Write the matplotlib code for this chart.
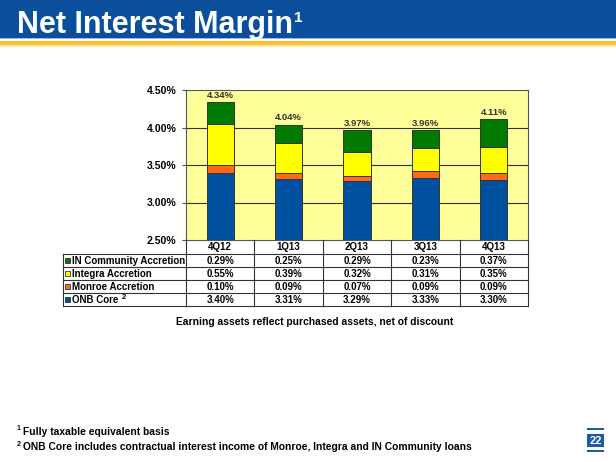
import matplotlib
matplotlib.use("Agg")
import matplotlib.pyplot as plt
from matplotlib.patches import Rectangle
from matplotlib.lines import Line2D
import matplotlib.transforms as mtransforms

plt.rcParams['font.family'] = ['Liberation Sans', 'DejaVu Sans']

# ---------------- data ----------------
categories = ["4Q12", "1Q13", "2Q13", "3Q13", "4Q13"]
onb_core = [3.40, 3.31, 3.29, 3.33, 3.30]
monroe = [0.10, 0.09, 0.07, 0.09, 0.09]
integra = [0.55, 0.39, 0.32, 0.31, 0.35]
in_community = [0.29, 0.25, 0.29, 0.23, 0.37]
totals = [4.34, 4.04, 3.97, 3.96, 4.11]
y_ticks = [2.50, 3.00, 3.50, 4.00, 4.50]

series_names = ["IN Community Accretion", "Integra Accretion", "Monroe Accretion", "ONB Core"]
series_values = [in_community, integra, monroe, onb_core]
series_colors = ["#007A00", "#FFFF00", "#FF6A1A", "#0050A0"]

title = "Net Interest Margin"
caption = "Earning assets reflect purchased assets, net of discount"
footnote1 = "Fully taxable equivalent basis"
footnote2 = "ONB Core includes contractual interest income of Monroe, Integra and IN Community loans"
page_no = "22"

# ---------------- figure ----------------
W, H = 616, 462
fig = plt.figure(figsize=(W / 100, H / 100), dpi=100)
fig.patch.set_facecolor("white")

def fx(px):
    return px / W

def fy(py):
    return 1 - py / H

# header band
fig.patches.append(Rectangle((0, fy(38)), 1, 38 / H, transform=fig.transFigure,
                             facecolor="#0B4F9C", edgecolor="none", zorder=0))
fig.patches.append(Rectangle((0, fy(39)), 1, 1 / H, transform=fig.transFigure,
                             facecolor="#9DB8DA", edgecolor="none", zorder=0))
fig.patches.append(Rectangle((0, fy(45.5)), 1, 4 / H, transform=fig.transFigure,
                             facecolor="#F8C130", edgecolor="none", zorder=0))
fig.patches.append(Rectangle((0, fy(47)), 1, 1.5 / H, transform=fig.transFigure,
                             facecolor="#FCE7A8", edgecolor="none", zorder=0))

t = fig.text(fx(17), fy(32.5), title, color="white", fontsize=22, fontweight="bold",
             ha="left", va="baseline")
fig.canvas.draw()
bb = t.get_window_extent()
fig.text(bb.x1 / W + fx(1), fy(22), "1", color="white", fontsize=11, fontweight="bold",
         ha="left", va="baseline")

# ---------------- chart axes ----------------
ax_l, ax_r, ax_t, ax_b = 186, 528, 90, 240
ax = fig.add_axes([fx(ax_l), fy(ax_b), fx(ax_r - ax_l), (ax_b - ax_t) / H])
ax.set_facecolor("#FFFF99")
ax.set_xlim(-0.5, len(categories) - 0.5)
ax.set_ylim(y_ticks[0], y_ticks[-1])
ax.set_yticks(y_ticks)
ax.set_yticklabels([f"{v:.2f}%" for v in y_ticks], fontsize=7.6, fontweight="bold")
ax.set_xticks([])
ax.tick_params(axis="y", length=3, width=0.8, color="#555555", pad=4)
for v in y_ticks[1:-1]:
    ax.axhline(v, color="#333333", lw=0.8, zorder=1)
for s in ax.spines.values():
    s.set_color("#555555")
    s.set_linewidth(0.8)

x = list(range(len(categories)))
bottom = [0.0] * len(categories)
stack_order = [onb_core, monroe, integra, in_community]
stack_colors = ["#0050A0", "#FF6A1A", "#FFFF00", "#007A00"]
for vals, col in zip(stack_order, stack_colors):
    ax.bar(x, vals, width=0.4, bottom=bottom, color=col, edgecolor="#333333",
           linewidth=0.7, zorder=2)
    bottom = [b + v for b, v in zip(bottom, vals)]

for xi, tot in zip(x, totals):
    ax.annotate(f"{tot:.2f}%", (xi, tot), xytext=(0, 1.5), textcoords="offset points",
                ha="center", va="bottom", fontsize=6.8, fontweight="bold",
                color="#333333")

# ---------------- data table ----------------
trans = mtransforms.blended_transform_factory(ax.transData, fig.transFigure)
row_edges = [240, 254, 267, 280, 293, 306]
tab_left = 63
line_kw = dict(color="#333333", lw=0.8)
tfs = 7

for k in range(len(categories) + 1):
    xb = k - 0.5
    fig.add_artist(Line2D([xb, xb], [fy(row_edges[0]), fy(row_edges[-1])],
                          transform=trans, **line_kw))
fig.add_artist(Line2D([fx(tab_left), fx(tab_left)], [fy(row_edges[1]), fy(row_edges[-1])],
                      transform=fig.transFigure, **line_kw))
for r in row_edges[1:]:
    fig.add_artist(Line2D([fx(tab_left), fx(ax_r)], [fy(r), fy(r)],
                          transform=fig.transFigure, **line_kw))

for xi, c in zip(x, categories):
    fig.text(xi, fy((row_edges[0] + row_edges[1]) / 2 + 0.5), c, transform=trans,
             ha="center", va="center", fontsize=tfs, fontweight="bold")

for i, (name, vals, col) in enumerate(zip(series_names, series_values, series_colors)):
    yc = (row_edges[i + 1] + row_edges[i + 2]) / 2
    fig.patches.append(Rectangle((fx(65), fy(yc + 2.5)), 5 / W, 5 / H, transform=fig.transFigure,
                                 facecolor=col, edgecolor="#333333", lw=0.6))
    label = fig.text(fx(72), fy(yc + 0.5), name, ha="left", va="center",
                     fontsize=tfs, fontweight="bold")
    if name == "ONB Core":
        fig.canvas.draw()
        lb = label.get_window_extent()
        fig.text(lb.x1 / W + fx(3), fy(yc - 2), "2", ha="left", va="center",
                 fontsize=5.5, fontweight="bold")
    for xi, v in zip(x, vals):
        fig.text(xi, fy(yc + 0.5), f"{v:.2f}%", transform=trans, ha="center",
                 va="center", fontsize=tfs, fontweight="bold")

# caption
fig.text(fx(315), fy(322), caption, ha="center", va="center", fontsize=7.4,
         fontweight="bold")

# footnotes
fig.text(fx(17), fy(429), "1", ha="left", va="center", fontsize=5, fontweight="bold")
fig.text(fx(23), fy(432), footnote1, ha="left", va="center", fontsize=7.4, fontweight="bold")
fig.text(fx(17), fy(444), "2", ha="left", va="center", fontsize=5, fontweight="bold")
fig.text(fx(23), fy(447), footnote2, ha="left", va="center", fontsize=7.4, fontweight="bold")

# page number box
pb = "#1F5AA6"
fig.patches.append(Rectangle((fx(587), fy(430)), 17 / W, 2 / H, transform=fig.transFigure,
                             facecolor=pb, edgecolor="none"))
fig.patches.append(Rectangle((fx(587), fy(447)), 17 / W, 13 / H, transform=fig.transFigure,
                             facecolor=pb, edgecolor="none"))
fig.patches.append(Rectangle((fx(587), fy(452)), 17 / W, 2 / H, transform=fig.transFigure,
                             facecolor=pb, edgecolor="none"))
fig.text(fx(595.5), fy(440.5), page_no, ha="center", va="center", fontsize=8,
         fontweight="bold", color="white")

fig.savefig("out.png", dpi=100, facecolor="white")
